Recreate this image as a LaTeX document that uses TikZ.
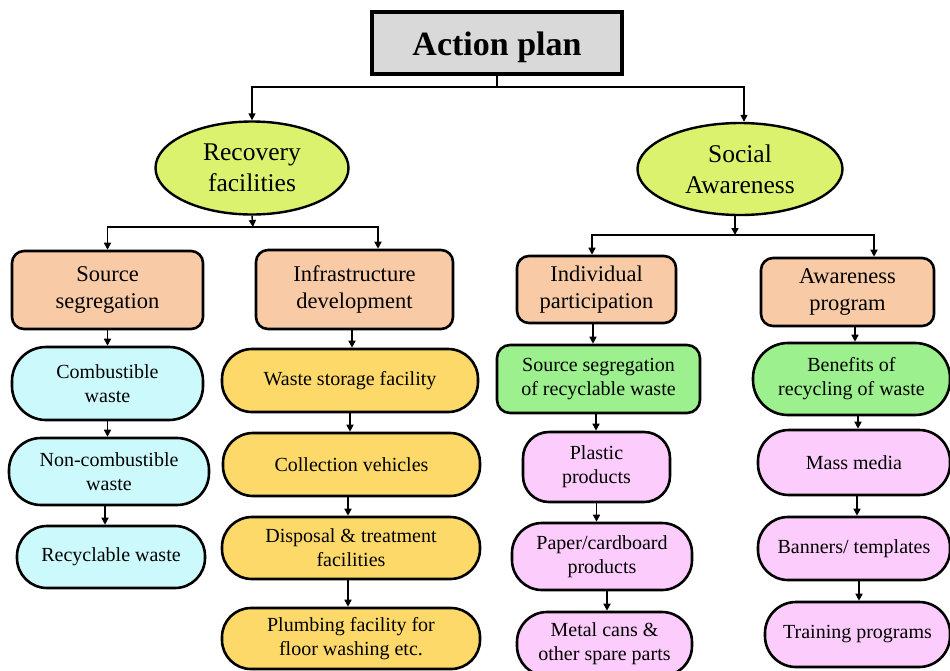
\documentclass[tikz,border=0pt]{standalone}
\usepackage{fontspec}
\setmainfont{Liberation Serif}
\usetikzlibrary{arrows.meta,shapes.geometric}
\definecolor{titlegray}{HTML}{D9D9D9}
\definecolor{limefill}{HTML}{DAF26E}
\definecolor{peach}{HTML}{F8CBA6}
\definecolor{cyanfill}{HTML}{CCFAFC}
\definecolor{goldfill}{HTML}{FDD96A}
\definecolor{greenfill}{HTML}{9CF08E}
\definecolor{pinkfill}{HTML}{FCCCFC}
\tikzset{
  basebox/.style={draw=black, line width=2.6pt, align=center, inner sep=0pt, rectangle},
  smalltext/.style={font=\fontsize{20}{24}\selectfont},
  orangebox/.style={basebox, fill=peach, rounded corners=12pt, font=\fontsize{22.5}{27}\selectfont},
  ovalbox/.style={draw=black, line width=2.4pt, ellipse, fill=limefill, align=center, inner sep=0pt, font=\fontsize{25.5}{31}\selectfont},
  cyanbox/.style={basebox, smalltext, fill=cyanfill},
  goldbox/.style={basebox, smalltext, fill=goldfill},
  greenbox/.style={basebox, smalltext, fill=greenfill},
  pinkbox/.style={basebox, smalltext, fill=pinkfill},
  conn/.style={line width=1.5pt},
  arr/.style={conn, -{Triangle[length=7pt,width=7pt]}},
}
\begin{document}
\begin{tikzpicture}[x=1pt,y=-1pt]
\useasboundingbox (0,0) rectangle (950,670);
% title
\node[basebox, fill=titlegray, line width=3.5pt, minimum width=250pt, minimum height=62pt] (title) at (497,43) {};
\node[font=\fontsize{34}{40}\selectfont\bfseries, inner sep=0pt, anchor=base] (titletext) at (497,55) {Action plan};
% ellipses
\node[ovalbox, minimum width=193pt, minimum height=93pt] (rec) at (252,168) {Recovery\\facilities};
\node[ovalbox, minimum width=205pt, minimum height=92pt] (soc) at (740,169) {Social\\Awareness};
% orange boxes
\node[orangebox, minimum width=191pt, minimum height=78pt] (src) at (107.5,290) {Source\\segregation};
\node[orangebox, minimum width=197pt, minimum height=79pt] (infra) at (354.5,289.5) {Infrastructure\\development};
\node[orangebox, minimum width=159pt, minimum height=67pt] (ind) at (596.5,289.5) {Individual\\participation};
\node[orangebox, minimum width=173pt, minimum height=68pt] (awp) at (847.5,292) {Awareness\\program};
% column 1
\node[cyanbox, rounded corners=34pt, minimum width=191pt, minimum height=73pt] (comb) at (107.5,383.5) {Combustible\\waste};
\node[cyanbox, rounded corners=32pt, minimum width=200pt, minimum height=67pt] (noncomb) at (109,471.5) {Non-combustible\\waste};
\node[cyanbox, rounded corners=30pt, minimum width=188pt, minimum height=62pt] (recy) at (111,557) {Recyclable waste};
% column 2
\node[goldbox, rounded corners=30pt, minimum width=256pt, minimum height=63pt] (storage) at (350,380.5) {Waste storage facility};
\node[goldbox, rounded corners=30pt, minimum width=257pt, minimum height=63pt] (coll) at (351.5,464.5) {Collection vehicles};
\node[goldbox, rounded corners=30pt, minimum width=258pt, minimum height=62pt] (disp) at (351,548) {Disposal \& treatment\\facilities};
\node[goldbox, rounded corners=29pt, minimum width=258pt, minimum height=61pt] (plumb) at (351,638.5) {Plumbing facility for\\floor washing etc.};
% column 3
\node[greenbox, rounded corners=13pt, minimum width=203pt, minimum height=68pt] (ssr) at (598.5,379) {Source segregation\\of recyclable waste};
\node[pinkbox, rounded corners=26pt, minimum width=147pt, minimum height=70pt] (plastic) at (596.5,467) {Plastic\\products};
\node[pinkbox, rounded corners=30pt, minimum width=180pt, minimum height=67pt] (paper) at (602,556.5) {Paper/cardboard\\products};
\node[pinkbox, rounded corners=30pt, minimum width=175pt, minimum height=64pt] (metal) at (604.5,644) {Metal cans \&\\other spare parts};
% column 4
\node[greenbox, rounded corners=35pt, minimum width=197pt, minimum height=72pt] (ben) at (851.5,379) {Benefits of\\recycling of waste};
\node[pinkbox, rounded corners=31pt, minimum width=192pt, minimum height=65pt] (mass) at (854,462.5) {Mass media};
\node[pinkbox, rounded corners=30pt, minimum width=192pt, minimum height=63pt] (ban) at (854,548.5) {Banners/ templates};
\node[pinkbox, rounded corners=31pt, minimum width=185pt, minimum height=65pt] (train) at (857.5,634.5) {Training programs};
% top connectors
\coordinate (j1) at (497,87);
\draw[conn] (title.south) -- (j1);
\draw[arr] (j1) -| (rec.north);
\draw[arr] (j1) -| ([xshift=4pt]soc.north);
% recovery split
\coordinate (j2) at (253,227);
\draw[arr] (rec.south) -- (j2);
\draw[arr] (j2) -| (src.north);
\draw[arr] (j2) -| ([xshift=23.5pt]infra.north);
% social split
\coordinate (j3) at (735,235);
\draw[arr] ([xshift=-5pt]soc.south) -- (j3);
\draw[arr] (j3) -| ([xshift=-4.5pt]ind.north);
\draw[arr] (j3) -| ([xshift=26.5pt]awp.north);
% column arrows
\draw[arr] (src.south) -- (src.south |- comb.north);
\draw[arr] (comb.south) -- (comb.south |- noncomb.north);
\draw[arr] ([xshift=-4pt]noncomb.south) -- ([xshift=-4pt]noncomb.south |- recy.north);
\draw[arr] ([xshift=-2.5pt]infra.south) -- ([xshift=-2.5pt]infra.south |- storage.north);
\draw[arr] (storage.south) -- (storage.south |- coll.north);
\draw[arr] ([xshift=-3.5pt]coll.south) -- ([xshift=-3.5pt]coll.south |- disp.north);
\draw[arr] ([xshift=-3pt]disp.south) -- ([xshift=-3pt]disp.south |- plumb.north);
\draw[arr] ([xshift=-3.5pt]ind.south) -- ([xshift=-3.5pt]ind.south |- ssr.north);
\draw[arr] ([xshift=-2.5pt]ssr.south) -- ([xshift=-2.5pt]ssr.south |- plastic.north);
\draw[arr] (plastic.south) -- (plastic.south |- paper.north);
\draw[arr] ([xshift=5pt]paper.south) -- ([xshift=5pt]paper.south |- metal.north);
\draw[arr] ([xshift=7.5pt]awp.south) -- ([xshift=7.5pt]awp.south |- ben.north);
\draw[arr] ([xshift=6.5pt]ben.south) -- ([xshift=6.5pt]ben.south |- mass.north);
\draw[arr] ([xshift=3pt]mass.south) -- ([xshift=3pt]mass.south |- ban.north);
\draw[arr] ([xshift=5pt]ban.south) -- ([xshift=5pt]ban.south |- train.north);
\end{tikzpicture}
\end{document}
